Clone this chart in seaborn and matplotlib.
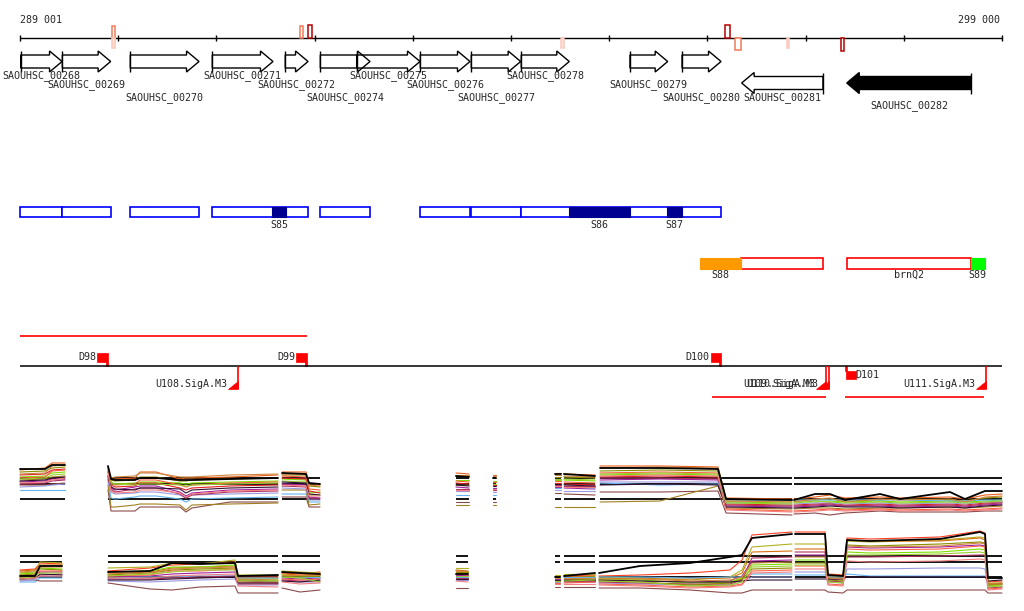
import numpy as np
import pandas as pd
import matplotlib
matplotlib.use("Agg")
import matplotlib.pyplot as plt
from matplotlib.patches import Rectangle, Polygon
import seaborn as sns

sns.set_theme(style="white")
plt.rcParams['font.family'] = ['DejaVu Sans Mono', 'DejaVu Sans']

# ------------------------------------------------------------------ data
REGION_START, REGION_END = 289001, 299000
axis_labels = ["289 001", "299 000"]

gene_names = ["SAOUHSC_00268", "SAOUHSC_00269", "SAOUHSC_00270", "SAOUHSC_00271",
              "SAOUHSC_00272", "SAOUHSC_00274", "SAOUHSC_00275", "SAOUHSC_00276",
              "SAOUHSC_00277", "SAOUHSC_00278", "SAOUHSC_00279", "SAOUHSC_00280",
              "SAOUHSC_00281", "SAOUHSC_00282"]
gene_start = [289008, 289432, 290124, 290959, 291702, 292059, 292429, 293077,
              293596, 294105, 295212, 295742, 296349, 297419]
gene_end = [289429, 289924, 290824, 291577, 291934, 292565, 293074, 293583,
            294099, 294594, 295596, 296139, 297177, 298685]
gene_strand = ['+'] * 12 + ['-', '-']
gene_selected = [False] * 13 + [True]

# small marks on the ruler (position, strand side, width bp, height, intensity level)
mark_pos = [289951, 289951, 291872, 291954, 296205, 296316, 294523, 296818, 297378]
mark_side = ['+', '-', '+', '+', '+', '-', '-', '-', '-']
mark_width = [28, 28, 30, 40, 50, 60, 25, 20, 35]
mark_height = [12, 10, 12, 13, 13, 12, 10, 10, 13]
mark_level = [2, 1, 2, 3, 3, 2, 1, 1, 3]

# feature track 1 (blue boxes + filled S segments)
box1_start = [289004, 289432, 290124, 290959, 292059, 293077, 293596, 294105]
box1_end = [289429, 289924, 290820, 291931, 292562, 293580, 294099, 296139]
seg1_start = [291570, 294588, 295586]
seg1_end = [291709, 295212, 295742]
seg1_label = ["S85", "S86", "S87"]

# feature track 2
box2_start = [296346, 297419]
box2_end = [297178, 298685]
box2_label = ["", "brnQ2"]
seg2_start = [295929, 298681]
seg2_end = [296346, 298827]
seg2_label = ["S88", "S89"]
seg2_kind = ["orange", "green"]

# track 3: transcripts / promoters
tx_start = [289001, 296050, 297402]
tx_end = [291923, 297208, 298817]
tx_strand = ['+', '-', '-']
d_site = [289897, 291923, 296139, 297411]
d_strand = ['+', '+', '+', '-']
d_label = ["D98", "D99", "D100", "D101"]
u_site = [291224, 297208, 297242, 298837]
u_label = ["U108.SigA.M3", "U109.SigA.M3", "U110.SigA.M3", "U111.SigA.M3"]

# expression panel 1 (log2 signal)
p1_pos = [289001, 289256, 289327, 289459,
          289897, 289928, 289968, 290172, 290223, 290386, 290630, 290691, 290752, 291139, 291628,
          291669, 291913, 291944, 292056,
          293440, 293573,
          293817, 293848,
          294448, 294510,
          294540, 294856,
          294907, 295518, 296108, 296190, 296862,
          296882, 297096, 297249, 297401, 297758, 297961, 298470, 298623, 298827, 299000]
p1_seg = (["A"] * 4 + ["B"] * 11 + ["C"] * 4 + ["D"] * 2 + ["E"] * 2 + ["F"] * 2
          + ["G"] * 2 + ["H"] * 5 + ["I"] * 10)
p1_ref = [8.34, 7.14, 4.14]
p1_black = [10.2, 10.2, 11.0, 11.0,
            10.8, 8.2, 8.0, 8.0, 8.4, 8.4, 8.0, 8.0, 8.0, 8.2, 8.4,
            9.4, 9.2, 7.4, 7.2, 8.8, 8.6, 8.4, 8.4, 9.2, 9.2, 9.2, 8.8,
            10.4, 10.4, 10.2, 4.2, 4.0,
            4.0, 5.2, 5.2, 4.0, 5.2, 4.2, 5.6, 4.2, 5.8, 5.8]
p1_c01 = [10.0, 10.4, 11.4, 11.4,
          10.6, 8.0, 8.2, 8.4, 9.6, 9.6, 8.2, 8.4, 8.4, 8.6, 9.0,
          9.6, 9.6, 7.4, 7.0, 9.4, 9.2, 9.0, 9.0, 9.4, 9.4, 9.2, 9.0,
          10.8, 10.8, 10.6, 4.4, 4.2,
          4.2, 4.6, 5.0, 4.4, 4.6, 4.4, 4.6, 4.2, 5.0, 5.2]
p1_c02 = [9.6, 9.8, 10.4, 10.6,
          9.6, 8.0, 7.8, 8.0, 8.6, 8.6, 7.8, 7.8, 8.0, 8.2, 8.4,
          9.0, 9.0, 6.8, 6.6, 8.8, 8.6, 8.4, 8.4, 8.6, 8.6, 8.6, 8.4,
          9.8, 10.0, 9.8, 3.8, 3.8,
          3.8, 4.0, 4.2, 3.8, 4.0, 4.2, 4.0, 3.8, 4.4, 4.6]
p1_c03 = [8.6, 8.8, 9.4, 9.6,
          9.0, 7.6, 7.2, 7.4, 7.6, 7.6, 7.4, 7.2, 7.4, 7.6, 7.8,
          8.2, 8.0, 5.4, 5.6, 8.0, 8.0, 7.8, 7.8, 8.0, 8.0, 8.0, 7.8,
          9.0, 9.2, 9.0, 3.6, 3.4,
          3.6, 3.6, 3.8, 3.6, 3.8, 3.6, 3.8, 3.6, 3.8, 4.0]
p1_c04 = [9.0, 9.2, 10.0, 10.2,
          9.8, 7.0, 6.6, 6.8, 7.4, 7.4, 6.4, 6.0, 6.4, 6.8, 7.0,
          8.4, 8.2, 5.8, 5.4, 7.4, 7.2, 7.0, 7.0, 7.4, 7.4, 7.2, 7.0,
          8.6, 8.8, 8.6, 3.2, 3.0,
          3.0, 3.2, 3.4, 3.0, 3.2, 3.0, 3.2, 3.0, 3.4, 3.6]
p1_c05 = [7.6, 7.8, 8.2, 8.2,
          8.6, 6.4, 6.0, 6.6, 6.8, 6.8, 5.6, 4.8, 5.4, 6.0, 6.2,
          7.2, 7.0, 4.6, 4.4, 6.6, 6.4, 6.4, 6.4, 6.6, 6.6, 6.4, 6.2,
          8.0, 8.2, 8.0, 2.8, 2.6,
          2.6, 2.8, 3.0, 2.8, 2.8, 2.6, 2.8, 2.6, 3.0, 3.2]
p1_c06 = [6.0, 6.0, 6.0, 6.0,
          8.0, 4.4, 4.2, 4.6, 4.8, 4.8, 4.2, 3.6, 4.2, 4.4, 4.6,
          5.2, 5.2, 3.6, 3.6, 5.0, 5.0, 5.0, 5.0, 6.4, 6.4, 6.6, 6.4,
          7.4, 7.0, 7.2, 4.0, 4.0,
          4.0, 4.0, 4.0, 4.0, 4.0, 4.0, 3.8, 3.8, 4.0, 4.0]
p1_c07 = [7.0, 7.0, 7.2, 7.4,
          6.0, 1.8, 1.8, 1.8, 2.6, 2.6, 2.6, 1.6, 2.4, 3.6, 3.6,
          4.6, 4.6, 2.6, 2.6, 3.6, 3.6, 3.6, 3.6, 5.4, 5.4, 5.2, 5.0,
          5.6, 5.6, 5.8, 1.4, 1.0,
          1.2, 1.4, 1.0, 1.4, 1.8, 1.6, 1.6, 1.6, 1.8, 1.8]
p1_c08 = [8.0, 8.2, 8.6, 8.8,
          7.0, 2.6, 2.6, 3.0, 3.2, 3.2, 3.0, 2.0, 3.0, 3.2, 3.4,
          6.0, 6.0, 3.0, 3.2, 3.0, 3.0, 3.0, 3.0, 2.6, 2.6, 2.6, 2.6,
          3.6, 3.8, 6.8, 2.4, 2.2,
          2.2, 2.4, 2.4, 2.2, 2.4, 2.4, 2.6, 2.4, 2.6, 2.8]
p1_c09 = [8.4, 8.6, 9.8, 10.0,
          10.2, 7.4, 7.0, 7.2, 8.0, 8.0, 7.0, 6.6, 7.0, 7.4, 7.6,
          8.8, 8.6, 6.2, 6.0, 7.8, 7.6, 7.6, 7.6, 7.8, 7.8, 7.6, 7.4,
          9.4, 9.6, 9.4, 2.2, 1.8,
          1.8, 2.0, 2.2, 2.0, 2.2, 2.0, 2.2, 2.0, 2.2, 2.4]
p1_c10 = [6.6, 6.8, 7.0, 7.2,
          7.6, 5.6, 5.2, 5.4, 5.6, 5.6, 5.0, 4.4, 5.0, 5.2, 5.4,
          6.4, 6.2, 4.0, 4.0, 5.8, 5.8, 5.6, 5.6, 6.0, 6.0, 5.8, 5.8,
          7.6, 7.6, 7.6, 3.4, 3.2,
          3.2, 3.4, 3.4, 3.2, 3.4, 3.2, 3.4, 3.2, 3.6, 3.6]
p1_c11 = [7.2, 7.4, 7.8, 8.0,
          8.2, 6.2, 5.6, 6.2, 6.4, 6.4, 5.2, 4.4, 5.0, 5.6, 5.8,
          6.8, 6.6, 4.4, 4.2, 6.2, 6.2, 6.0, 6.0, 7.0, 7.0, 6.8, 6.8,
          8.4, 8.4, 8.2, 3.0, 2.8,
          2.8, 3.0, 3.2, 2.8, 3.0, 2.8, 3.0, 2.8, 3.2, 3.4]
p1_c12 = [9.2, 9.4, 10.8, 11.0,
          10.4, 8.4, 8.6, 8.8, 9.4, 9.4, 8.6, 8.6, 8.6, 9.0, 9.2,
          9.2, 9.2, 7.0, 6.8, 9.0, 9.0, 8.8, 8.8, 9.0, 9.0, 8.8, 8.6,
          10.4, 10.6, 10.4, 3.8, 3.6,
          3.6, 4.2, 4.4, 3.6, 4.2, 4.0, 4.2, 3.6, 4.6, 4.8]
p1_c13 = [8.2, 8.4, 9.0, 9.2,
          9.2, 7.2, 7.2, 7.0, 7.2, 7.2, 7.0, 6.8, 7.0, 7.2, 7.4,
          7.8, 7.6, 5.0, 5.0, 7.0, 7.0, 7.2, 7.2, 8.2, 8.2, 8.2, 8.0,
          9.2, 9.4, 9.2, 3.4, 3.2,
          3.4, 3.8, 3.6, 3.4, 3.6, 3.4, 3.6, 3.4, 3.6, 3.8]
p1_c14 = [7.8, 8.0, 8.4, 8.6,
          8.8, 6.6, 6.2, 6.0, 6.4, 6.4, 6.2, 5.4, 6.0, 6.4, 6.6,
          7.6, 7.4, 5.2, 5.0, 7.0, 6.8, 6.8, 6.8, 7.2, 7.2, 7.0, 6.8,
          7.0, 7.2, 7.0, 2.6, 2.4,
          2.4, 2.6, 2.8, 2.6, 2.6, 2.4, 2.6, 2.4, 2.8, 3.0]
p1_c15 = [7.4, 7.6, 8.0, 8.4,
          9.4, 5.8, 5.4, 5.6, 6.0, 6.0, 5.4, 4.6, 5.2, 5.8, 6.0,
          7.0, 6.8, 4.8, 4.8, 6.0, 6.0, 6.2, 6.2, 6.8, 6.8, 6.6, 6.6,
          8.8, 9.0, 8.8, 2.0, 1.6,
          1.6, 1.8, 2.0, 1.8, 2.0, 1.8, 2.0, 1.8, 2.0, 2.2]

# expression panel 2 (log2 signal)
p2_pos = [289001, 289154, 289205, 289429,
          289897, 290325, 290549, 290834, 291190, 291221, 291628,
          291669, 291852, 292056,
          293440, 293563,
          294448, 294499,
          294540, 294856,
          294897, 295314, 295823, 296230, 296353, 296454, 296862,
          296892, 297198, 297228, 297381, 297422, 297656, 298369, 298776, 298827, 298857, 299000]
p2_seg = (["A"] * 4 + ["B"] * 7 + ["C"] * 3 + ["D"] * 2 + ["F"] * 2 + ["G"] * 2
          + ["H"] * 7 + ["I"] * 11)
p2_ref = [8.86, 7.54, 4.54]
p2_black = [4.8, 4.8, 6.8, 6.8,
            5.6, 5.8, 7.4, 7.2, 7.4, 4.8, 5.0,
            5.6, 5.4, 5.2, 5.2, 5.2, 4.6, 4.6, 4.8, 5.4,
            5.4, 6.8, 7.4, 8.6, 9.0, 12.4, 13.2,
            13.2, 13.2, 5.0, 4.8, 12.0, 11.8, 12.2, 13.6, 13.2, 4.4, 4.4]
p2_d01 = [6.0, 6.2, 7.4, 7.2,
          5.8, 6.4, 7.0, 7.2, 7.6, 4.6, 4.6,
          5.4, 5.2, 5.6, 5.8, 5.6, 4.8, 4.8, 4.8, 5.0,
          4.8, 5.0, 5.4, 6.0, 8.0, 13.0, 13.6,
          13.6, 13.6, 5.2, 5.0, 12.4, 12.2, 12.6, 13.8, 13.4, 3.6, 3.8]
p2_d02 = [5.4, 5.6, 7.6, 7.4,
          6.4, 6.6, 7.4, 7.2, 8.0, 5.0, 5.0,
          5.8, 5.6, 5.4, 6.4, 6.4, 5.0, 5.0, 5.2, 5.2,
          4.6, 4.4, 4.0, 4.6, 6.0, 10.6, 11.2,
          11.2, 11.2, 4.8, 4.6, 11.8, 11.6, 12.0, 12.6, 12.4, 3.4, 3.4]
p2_d03 = [5.8, 6.0, 7.0, 7.0,
          5.2, 5.6, 6.4, 6.6, 6.8, 4.4, 4.4,
          5.2, 5.0, 5.2, 6.0, 5.8, 4.6, 4.6, 4.6, 4.8,
          4.4, 4.2, 4.2, 4.4, 5.4, 9.6, 9.8,
          10.2, 10.2, 4.6, 4.4, 12.0, 11.8, 11.8, 12.4, 12.0, 3.2, 3.4]
p2_d04 = [4.8, 5.0, 5.6, 5.6,
          4.6, 4.8, 5.2, 5.4, 5.6, 3.8, 3.6,
          4.4, 4.2, 4.4, 5.0, 5.0, 4.2, 4.2, 4.2, 4.2,
          4.0, 3.8, 3.6, 3.8, 4.8, 7.8, 8.0,
          9.0, 9.0, 4.2, 4.0, 10.6, 10.4, 10.6, 11.0, 10.8, 3.0, 3.2]
p2_d05 = [5.2, 5.4, 6.4, 6.2,
          5.6, 5.8, 6.6, 6.6, 7.0, 4.2, 4.2,
          5.0, 4.8, 4.6, 5.4, 5.4, 4.4, 4.4, 4.4, 4.6,
          4.2, 4.0, 3.4, 3.6, 4.4, 7.0, 7.2,
          8.0, 8.0, 4.4, 4.2, 9.6, 9.4, 9.6, 10.2, 10.0, 2.8, 3.0]
p2_d06 = [3.6, 3.6, 4.4, 4.4,
          4.4, 4.6, 4.6, 4.8, 4.8, 4.4, 4.4,
          4.6, 4.6, 4.6, 4.6, 4.6, 4.6, 4.6, 4.6, 4.6,
          4.6, 4.6, 4.4, 4.6, 4.6, 5.2, 5.2,
          5.0, 5.0, 4.6, 4.6, 5.2, 4.8, 4.8, 4.8, 4.8, 4.4, 4.4]
p2_d07 = [4.0, 4.0, 3.8, 3.8,
          3.4, 2.2, 2.0, 2.6, 2.8, 1.4, 1.4,
          2.4, 1.6, 2.0, 2.4, 2.4, 2.6, 2.6, 2.6, 2.6,
          2.4, 2.4, 2.0, 1.4, 1.4, 2.0, 2.0,
          2.0, 2.0, 1.6, 1.4, 2.0, 2.0, 2.0, 2.0, 2.0, 1.4, 1.4]
p2_d08 = [3.8, 4.0, 4.8, 4.8,
          3.8, 3.6, 3.8, 4.0, 4.2, 3.0, 3.0,
          3.8, 3.6, 3.6, 4.0, 4.0, 3.6, 3.6, 3.6, 3.6,
          3.4, 3.2, 3.0, 3.0, 3.6, 4.6, 4.6,
          5.6, 5.6, 3.6, 3.4, 6.2, 6.2, 6.4, 6.4, 6.2, 2.6, 2.6]
p2_d09 = [4.4, 4.6, 5.0, 5.2,
          4.2, 4.2, 4.4, 4.6, 4.8, 3.2, 3.2,
          4.0, 3.8, 3.8, 4.4, 4.4, 3.8, 3.8, 3.8, 3.8,
          3.6, 3.4, 3.2, 3.2, 4.0, 8.4, 8.6,
          9.6, 9.6, 3.8, 3.6, 8.6, 8.6, 8.8, 9.0, 9.0, 2.4, 2.6]
p2_d10 = [5.0, 5.2, 6.2, 6.0,
          5.0, 5.4, 6.0, 6.2, 6.4, 4.0, 3.8,
          4.8, 4.6, 4.8, 5.6, 5.6, 4.0, 4.0, 4.0, 4.2,
          3.8, 3.6, 3.0, 3.4, 4.2, 6.2, 6.4,
          7.4, 7.4, 4.0, 3.8, 11.0, 10.8, 11.2, 11.6, 11.4, 3.0, 3.2]
p2_d11 = [4.6, 4.8, 5.8, 5.8,
          4.8, 5.0, 5.8, 5.8, 6.2, 3.6, 3.4,
          4.2, 4.0, 4.2, 5.2, 5.0, 3.4, 3.4, 3.4, 3.6,
          3.2, 3.0, 2.6, 2.8, 3.2, 5.8, 6.0,
          6.8, 6.8, 3.2, 3.0, 10.2, 10.0, 10.2, 10.8, 10.6, 2.2, 2.4]
p2_d12 = [4.2, 4.4, 5.2, 5.0,
          4.0, 4.0, 4.2, 4.4, 4.6, 3.4, 3.4,
          3.8, 3.6, 4.0, 4.2, 4.2, 4.0, 4.0, 4.0, 4.0,
          4.0, 3.8, 3.6, 3.6, 3.8, 4.0, 4.0,
          4.2, 4.2, 4.2, 4.2, 4.6, 4.6, 4.6, 4.6, 4.6, 3.8, 4.0]
p2_d13 = [5.6, 5.8, 6.6, 6.6,
          5.4, 5.4, 6.2, 6.4, 6.6, 4.2, 4.0,
          5.0, 5.0, 5.0, 5.8, 5.8, 4.4, 4.4, 4.4, 4.4,
          4.2, 4.2, 3.8, 4.0, 4.6, 7.4, 7.6,
          8.6, 8.6, 4.4, 4.2, 10.8, 10.6, 10.8, 11.4, 11.2, 3.2, 3.2]
p2_d14 = [4.4, 4.6, 5.4, 5.4,
          4.8, 5.2, 5.6, 6.0, 6.0, 3.8, 3.8,
          4.6, 4.4, 3.6, 4.8, 4.8, 3.8, 3.8, 3.8, 4.0,
          3.8, 3.6, 2.8, 3.0, 3.6, 6.6, 6.8,
          7.0, 7.0, 3.6, 3.4, 9.0, 9.0, 9.2, 9.6, 9.4, 2.6, 2.8]
p2_d15 = [4.2, 4.4, 4.8, 4.8,
          4.4, 4.4, 4.8, 5.0, 5.2, 2.8, 2.6,
          3.6, 3.2, 3.4, 3.8, 3.6, 3.2, 3.2, 3.2, 3.2,
          3.0, 2.8, 2.4, 2.6, 3.0, 5.4, 5.6,
          6.2, 6.2, 3.0, 2.8, 7.8, 7.6, 7.8, 8.2, 8.0, 2.0, 2.2]

# ------------------------------------------------------------------ style / layout
FS = 7.2
series_colors = ["#e8601c", "#8c8c00", "#7fdc00", "#e02020", "#a0209f", "#64b4f0",
                 "#8b4a4a", "#a08020", "#ff5a3c", "#9a9ae0", "#b03060", "#cd853f",
                 "#9acd32", "#301030", "#f08080"]
p2_colors = ["#ff4020", "#b0b020", "#d87010", "#a0209f", "#7fe000", "#64b4f0",
             "#8b4a4a", "#9a9ae0", "#b03060", "#8c8c00", "#ff6347", "#301030",
             "#cd853f", "#9acd32", "#f08080"]
mark_edge = {1: "#fcc8ba", 2: "#f07a5a", 3: "#b80000"}
mark_face = {1: "#fde4dc", 2: "white", 3: "white"}

BPX = (REGION_END - REGION_START) / 982.0   # bp per pixel
X0 = REGION_START - 20 * BPX
X1 = X0 + 1024 * BPX


def px(n):
    return n * BPX


fig = plt.figure(figsize=(10.24, 6.11), dpi=100)
fig.patch.set_facecolor("white")
ax = fig.add_axes([0, 0, 1, 1])
ax.set_xlim(X0, X1)
ax.set_ylim(611, 0)
ax.axis("off")

# ---- ruler
RULER_Y = 38
ax.hlines(RULER_Y, REGION_START, REGION_END, color="black", lw=1)
ticks = np.arange(REGION_START, REGION_END + 2, 1000)
ax.vlines(ticks, RULER_Y - 3, RULER_Y + 3, color="black", lw=1)
ax.text(REGION_START, 20, axis_labels[0], ha="left", va="center", fontsize=FS)
ax.text(REGION_END - px(2), 20, axis_labels[1], ha="right", va="center", fontsize=FS)

for p, side, w, h, lev in zip(mark_pos, mark_side, mark_width, mark_height, mark_level):
    y0 = RULER_Y - h if side == '+' else RULER_Y
    ax.add_patch(Rectangle((p - w / 2, y0), w, h, fc=mark_face[lev], ec=mark_edge[lev],
                           lw=1.1, zorder=3))

# ---- genes
label_rows = [0, 1, 2, 0, 1, 2, 0, 1, 2, 0, 1, 2, 2, 3]
row_y = [76, 85, 97.5, 106]
hlen = px(12.5)
for name, s, e, strand, sel, row in zip(gene_names, gene_start, gene_end, gene_strand,
                                        gene_selected, label_rows):
    bh, hh = 6.5, 10.5
    if strand == '+':
        yc = 61.5
        pts = [(s, yc - bh), (e - hlen, yc - bh), (e - hlen, yc - hh), (e, yc),
               (e - hlen, yc + hh), (e - hlen, yc + bh), (s, yc + bh)]
        tail = s
    else:
        yc = 83
        pts = [(e, yc - bh), (s + hlen, yc - bh), (s + hlen, yc - hh), (s, yc),
               (s + hlen, yc + hh), (s + hlen, yc + bh), (e, yc + bh)]
        tail = e
    ax.add_patch(Polygon(pts, closed=True, fc="black" if sel else "none", ec="black",
                         lw=1, zorder=3))
    ax.vlines(tail, yc - hh, yc + hh, color="black", lw=1, zorder=3)
    ax.text((s + e) / 2, row_y[row], name, ha="center", va="center", fontsize=FS)

# ---- feature track 1
T1_Y, T1_H = 207.3, 10
for s, e in zip(box1_start, box1_end):
    ax.add_patch(Rectangle((s, T1_Y), e - s, T1_H, fc="white", ec="#0000ff", lw=1.2, zorder=2))
for s, e, lab in zip(seg1_start, seg1_end, seg1_label):
    ax.add_patch(Rectangle((s, T1_Y), e - s, T1_H, fc="#000090", ec="#000090", lw=0.8, zorder=3))
    ax.text((s + e) / 2, 224.5, lab, ha="center", va="center", fontsize=FS)

# ---- feature track 2
T2_Y, T2_H = 258.3, 10.4
for s, e, lab in zip(box2_start, box2_end, box2_label):
    ax.add_patch(Rectangle((s, T2_Y), e - s, T2_H, fc="white", ec="#ff0000", lw=1.2, zorder=2))
    if lab:
        ax.text((s + e) / 2, 275, lab, ha="center", va="center", fontsize=FS)
kind_color = {"orange": "#ff9900", "green": "#00ff00"}
for s, e, lab, k in zip(seg2_start, seg2_end, seg2_label, seg2_kind):
    ax.add_patch(Rectangle((s, T2_Y), e - s, T2_H, fc=kind_color[k], ec=kind_color[k],
                           lw=0.8, zorder=3))
    ax.text((s + e) / 2, 275, lab, ha="center", va="center", fontsize=FS)

# ---- track 3
BASE_Y = 366
ax.hlines(BASE_Y, REGION_START, REGION_END, color="black", lw=1.1)
for s, e, strand in zip(tx_start, tx_end, tx_strand):
    ax.hlines(BASE_Y - 30 if strand == '+' else BASE_Y + 31, s, e, color="#ff0000", lw=1.2)

SQ = px(10.5)
for site, strand, lab in zip(d_site, d_strand, d_label):
    if strand == '+':
        ax.add_patch(Rectangle((site - SQ, 353), SQ, 9, fc="#ff0000", ec="#ff0000", lw=0.5))
        ax.add_patch(Rectangle((site - px(2), 362), px(2), 4, fc="#ff0000", ec="#ff0000", lw=0.5))
        ax.text(site - SQ - px(1), 357.5, lab, ha="right", va="center", fontsize=FS)
    else:
        ax.add_patch(Rectangle((site, 371), SQ, 8, fc="#ff0000", ec="#ff0000", lw=0.5))
        ax.add_patch(Rectangle((site - px(1), 366), px(2), 5, fc="#ff0000", ec="#ff0000", lw=0.5))
        ax.text(site + px(9), 375, lab, ha="left", va="center", fontsize=FS)

TRI = px(10)
for site, lab in zip(u_site, u_label):
    ax.vlines(site, BASE_Y, 389, color="#ff0000", lw=1.2)
    ax.add_patch(Polygon([(site - TRI, 389), (site, 389), (site, 381)], closed=True,
                         fc="#ff0000", ec="#ff0000", lw=0.5))
    ax.text(site - TRI - px(1), 384, lab, ha="right", va="center", fontsize=FS)

# ---- expression panels


def draw_panel(axp, pos, seg, series, colors, black, refs, ylim):
    for vals in list(series) + [black]:
        assert len(vals) == len(pos)
    names = [f"s{i:02d}" for i in range(len(series))]
    frames = [pd.DataFrame({"pos": pos, "value": v, "series": n, "seg": seg})
              for n, v in zip(names, series)]
    df = pd.concat(frames, ignore_index=True)
    axp.set_xlim(X0, X1)
    axp.set_ylim(*ylim)
    segdf = pd.DataFrame({"pos": pos, "seg": seg}).groupby("seg")["pos"].agg(["min", "max"])
    for _, r in segdf.iterrows():
        axp.hlines(refs, r["min"], r["max"], color="black", lw=1.3, zorder=1)
    sns.lineplot(data=df, x="pos", y="value", hue="series", units="seg", estimator=None,
                 palette=dict(zip(names, colors)), legend=False, linewidth=0.8,
                 sort=False, ax=axp, zorder=2)
    bdf = pd.DataFrame({"pos": pos, "value": black, "seg": seg})
    sns.lineplot(data=bdf, x="pos", y="value", units="seg", estimator=None, color="black",
                 linewidth=1.3, sort=False, ax=axp, zorder=3)
    axp.axis("off")


ax1 = fig.add_axes([0, 1 - 520 / 611, 1, 70 / 611])
ax1.patch.set_alpha(0)
draw_panel(ax1, p1_pos, p1_seg,
           [p1_c01, p1_c02, p1_c03, p1_c04, p1_c05, p1_c06, p1_c07, p1_c08, p1_c09,
            p1_c10, p1_c11, p1_c12, p1_c13, p1_c14, p1_c15],
           series_colors, p1_black, p1_ref, (0, 14))

ax2 = fig.add_axes([0, 1 - 600 / 611, 1, 75 / 611])
ax2.patch.set_alpha(0)
draw_panel(ax2, p2_pos, p2_seg,
           [p2_d01, p2_d02, p2_d03, p2_d04, p2_d05, p2_d06, p2_d07, p2_d08, p2_d09,
            p2_d10, p2_d11, p2_d12, p2_d13, p2_d14, p2_d15],
           p2_colors, p2_black, p2_ref, (0, 15))

fig.savefig("out.png", dpi=100, facecolor="white")
